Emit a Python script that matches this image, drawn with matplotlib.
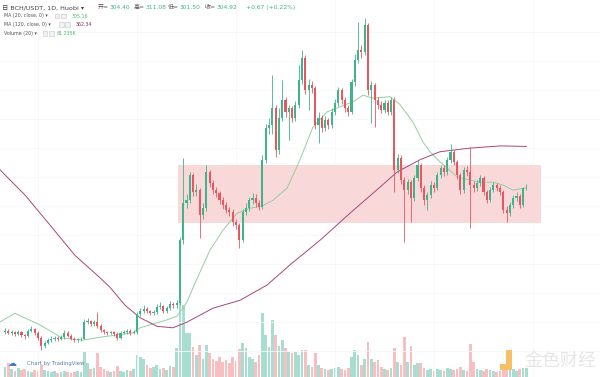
import matplotlib
matplotlib.use("Agg")
import numpy as np
import matplotlib.pyplot as plt
from matplotlib.patches import Rectangle

plt.rcParams["font.family"] = ["DejaVu Sans", "Noto Sans CJK SC"]

# BCH/USDT daily candles (prices in USDT)
FIRST_OPEN = 106
CLOSE = [108, 105, 106, 104, 106, 102, 101, 108, 110, 105,
         98, 87, 91, 95, 97, 98, 97, 99, 105, 101,
         97, 95, 96, 97, 120, 121, 117, 120, 115, 109,
         106, 105, 106, 104, 98, 105, 106, 108, 105, 106,
         131, 135, 138, 135, 132, 134, 141, 142, 135, 139,
         145, 143, 146, 233, 284, 288, 323, 299, 302, 268,
         277, 327, 312, 302, 298, 288, 281, 275, 272, 258,
         254, 233, 272, 277, 288, 291, 284, 279, 344, 388,
         392, 415, 357, 402, 426, 410, 415, 402, 420, 454,
         484, 440, 447, 443, 392, 402, 388, 399, 392, 410,
         422, 440, 426, 415, 410, 451, 482, 495, 493, 530,
         440, 447, 426, 420, 413, 422, 410, 426, 330, 346,
         316, 302, 313, 291, 319, 337, 305, 288, 295, 309,
         305, 323, 333, 327, 344, 355, 341, 323, 302, 330,
         327, 309, 305, 312, 319, 299, 288, 302, 309, 305,
         299, 274, 270, 281, 291, 294, 281, 304.40, 304.92]
HIGH = [112, 110, 109, 108, 109, 108, 104, 111, 114, 112,
        107, 100, 94, 98, 100, 101, 100, 102, 109, 107,
        103, 99, 98, 99, 124, 126, 123, 123, 134, 117,
        111, 108, 108, 108, 106, 107, 109, 110, 110, 109,
        134, 140, 144, 141, 137, 137, 145, 148, 144, 142,
        149, 148, 150, 238, 346, 296, 327, 326, 310, 305,
        284, 336, 330, 316, 306, 301, 292, 285, 279, 276,
        262, 257, 276, 284, 293, 298, 296, 288, 350, 393,
        402, 461, 420, 415, 454, 430, 420, 418, 425, 475,
        495, 488, 455, 452, 446, 410, 405, 404, 402, 415,
        428, 444, 443, 430, 419, 455, 490, 534, 502, 540,
        533, 452, 450, 431, 425, 427, 426, 431, 430, 352,
        350, 320, 318, 316, 323, 343, 340, 309, 300, 314,
        313, 327, 337, 337, 348, 365, 358, 344, 326, 334,
        335, 362, 314, 316, 323, 322, 302, 306, 313, 312,
        309, 302, 280, 286, 295, 299, 297, 307, 311.08]
LOW = [103, 103, 102, 101, 102, 99, 96, 99, 106, 102,
       95, 81, 84, 89, 93, 94, 94, 95, 97, 99,
       95, 93, 93, 94, 96, 117, 114, 115, 112, 106,
       104, 102, 103, 101, 95, 96, 103, 104, 102, 103,
       104, 128, 132, 132, 129, 129, 131, 138, 132, 133,
       137, 140, 140, 143, 228, 278, 284, 294, 294, 236,
       262, 273, 306, 297, 292, 283, 276, 270, 266, 252,
       248, 222, 230, 267, 273, 283, 279, 274, 276, 340,
       380, 380, 348, 352, 398, 403, 371, 396, 398, 415,
       448, 434, 412, 436, 386, 367, 382, 384, 386, 388,
       406, 418, 421, 410, 404, 407, 446, 478, 485, 488,
       433, 395, 389, 414, 408, 409, 405, 406, 299, 325,
       310, 230, 296, 258, 287, 314, 300, 282, 275, 291,
       300, 302, 319, 322, 323, 340, 336, 318, 297, 298,
       322, 250, 300, 301, 308, 295, 284, 285, 299, 301,
       295, 270, 258, 266, 277, 287, 277, 279, 301.50]
VOLUME_K = [90, 126, 72, 54, 81, 63, 72, 54, 45, 63,
            54, 108, 63, 54, 45, 54, 36, 45, 54, 45,
            36, 45, 54, 45, 225, 126, 72, 81, 216, 90,
            72, 54, 45, 54, 99, 54, 45, 63, 54, 72,
            198, 180, 162, 108, 81, 90, 108, 72, 81, 63,
            99, 90, 261, 792, 648, 396, 396, 270, 198, 288,
            162, 288, 216, 162, 144, 180, 135, 153, 126, 180,
            144, 252, 306, 261, 180, 162, 135, 198, 576, 378,
            270, 513, 378, 279, 333, 261, 225, 216, 225, 198,
            243, 243, 108, 90, 216, 108, 81, 72, 63, 72,
            81, 90, 72, 63, 81, 180, 243, 198, 108, 162,
            315, 162, 135, 153, 90, 72, 63, 81, 261, 135,
            108, 360, 135, 279, 108, 126, 126, 81, 63, 72,
            54, 72, 63, 54, 81, 72, 63, 72, 90, 63,
            54, 297, 135, 72, 63, 54, 72, 63, 54, 45,
            54, 81, 72, 63, 72, 54, 72, 81, 81.235]

# moving averages, sampled along the drawn lines (candle index, price)
MA20_IDX = [-1.5, 3.0, 10.6, 17.3, 23.6, 28.8, 38.8, 40.9, 49.1, 52.1,
            55.2, 57.6, 62.1, 66.1, 70.3, 74.2, 77.9, 81.2, 85.5, 89.4,
            93.3, 97.6, 101.5, 105.5, 108.5, 111.5, 116.7, 119.7, 123.6, 126.7,
            128.8, 131.8, 133.9, 137.0, 140.9, 143.9, 147.9, 150.9, 153.9, 158]
MA20_VAL = [120, 132, 116, 98, 95, 99, 105, 112, 123, 128,
            148, 174, 219, 247, 270, 277, 280, 288, 305, 344,
            389, 410, 417, 424, 433, 429, 431, 420, 396, 368,
            355, 341, 333, 320, 316, 313, 313, 309, 302, 305.16]
MA120_IDX = [-1.5, 6.1, 13.6, 21.2, 28.8, 31.8, 36.4, 40.9, 46.1, 50.9,
             55.2, 63.0, 71.2, 79.4, 86.4, 95.5, 104.5, 113.6, 118.8, 125.8,
             131.8, 140.9, 150.0, 158]
MA120_VAL = [330, 295, 254, 212, 181, 168, 143, 126, 114, 112,
             120, 139, 150, 171, 199, 233, 270, 306, 327, 344,
             355, 360, 363, 362.34]

# consolidation zone drawn on the chart
ZONE_IDX = (52.4, 162.4)
ZONE_PRICE = (256.7, 336.7)

# header quote (label, value)
QUOTE = [("开=", "304.40"), ("高=", "311.08"), ("低=", "301.50"), ("收=", "304.92")]

UP, DOWN = "#3db489", "#ea5660"
VOL_UP, VOL_DOWN = "#a9ddd0", "#f7bfc1"
MA20_C, MA120_C = "#93cf9f", "#a8467a"
W, H = 600, 377

close = np.array(CLOSE, dtype=float)
high = np.array(HIGH, dtype=float)
low = np.array(LOW, dtype=float)
opn = np.r_[FIRST_OPEN, close[:-1]]
idx = np.arange(len(close))
up = close >= opn

fig = plt.figure(figsize=(W / 100, H / 100), dpi=100)
ax_v = fig.add_axes([0, 0, 1, 1])
ax = fig.add_axes([0, 0, 1, 1])
ax.patch.set_visible(False)
for a in (ax_v, ax):
    a.set_xlim(-1.515, 180.3)
    a.axis("off")
ax.set_ylim(44.1, 564.4)
ax_v.set_ylim(0, 3393)

# very faint grid
for p in np.arange(80, 560, 40):
    ax.axhline(p, color="#f6f7f9", lw=0.6, zorder=0)
for t in np.arange(10, 180, 30):
    ax.axvline(t, color="#f6f7f9", lw=0.6, zorder=0)

ax_v.bar(idx, VOLUME_K, width=0.8, color=np.where(up, VOL_UP, VOL_DOWN), lw=0)

ax.add_patch(Rectangle((ZONE_IDX[0], ZONE_PRICE[0]), ZONE_IDX[1] - ZONE_IDX[0],
                       ZONE_PRICE[1] - ZONE_PRICE[0], color="#f9d8d9", lw=0, zorder=0.5))

ax.plot(MA20_IDX, MA20_VAL, color=MA20_C, lw=0.7, zorder=2)
ax.plot(MA120_IDX, MA120_VAL, color=MA120_C, lw=0.7, zorder=2)

colors = np.where(up, UP, DOWN)
ax.vlines(idx, low, high, colors=colors, lw=0.6, zorder=3)
body = np.maximum(np.abs(close - opn), 0.8)
ax.bar(idx, body, bottom=np.minimum(opn, close), width=0.62, color=colors, lw=0, zorder=4)


def txt(x, y, s, **kw):
    return fig.text(x / W, 1 - y / H, s, va="center", ha="left", **kw)


def icons(x, y):
    for dx in (0, 6):
        fig.patches.append(Rectangle(((x + dx) / W, 1 - (y + 2.3) / H), 4.5 / W, 4.6 / H,
                                     transform=fig.transFigure, fc="#f2f2f2",
                                     ec="#c6c6c6", lw=0.4))


txt(2.5, 7.5, "日 BCH/USDT, 1D, Huobi ▾", fontsize=4.6, color="#444444")
for x, (lab, val) in zip([98, 134, 168, 205], QUOTE):
    t = txt(x, 7.5, lab, fontsize=4.3, color="#555555")
    ax.annotate(val, xy=(1, 0.5), xycoords=t, xytext=(0.4, 0),
                textcoords="offset points", va="center", ha="left",
                fontsize=4.3, color=UP, annotation_clip=False)
txt(246, 7.5, "+0.67 (+0.22%)", fontsize=4.3, color=UP)

txt(4, 16, "MA (20, close, 0) ▾", fontsize=3.4, color="#555555")
icons(55, 16)
txt(72, 16, "305.16", fontsize=3.4, color="#4fb866")
txt(4, 24.7, "MA (120, close, 0) ▾", fontsize=3.4, color="#555555")
icons(59, 24.7)
txt(76, 24.7, "362.34", fontsize=3.4, color="#8e2e5c")
txt(4, 33.7, "Volume (20) ▾", fontsize=3.4, color="#555555")
icons(43, 33.7)
txt(57, 33.7, "81.235K", fontsize=3.4, color="#4fb866")

# footer branding
txt(8, 363, "☁", fontsize=6.5, color="#3f7fbf")
txt(27, 364, "Chart by TradingView", fontsize=3.9, color="#5a7fa6")
fig.patches.append(Rectangle((500 / W, 1 - 370 / H), 12 / W, 6 / H,
                             transform=fig.transFigure, fc="#f7c067", lw=0))
fig.patches.append(Rectangle((506 / W, 1 - 364 / H), 6 / W, 14 / H,
                             transform=fig.transFigure, fc="#f7c067", lw=0))
fig.text(524 / W, 1 - 361 / H, "金色财经", fontsize=13, color="#e6e6e6",
         family=["Noto Sans CJK SC", "DejaVu Sans"], va="center", ha="left")

fig.savefig("out.png", dpi=100)
